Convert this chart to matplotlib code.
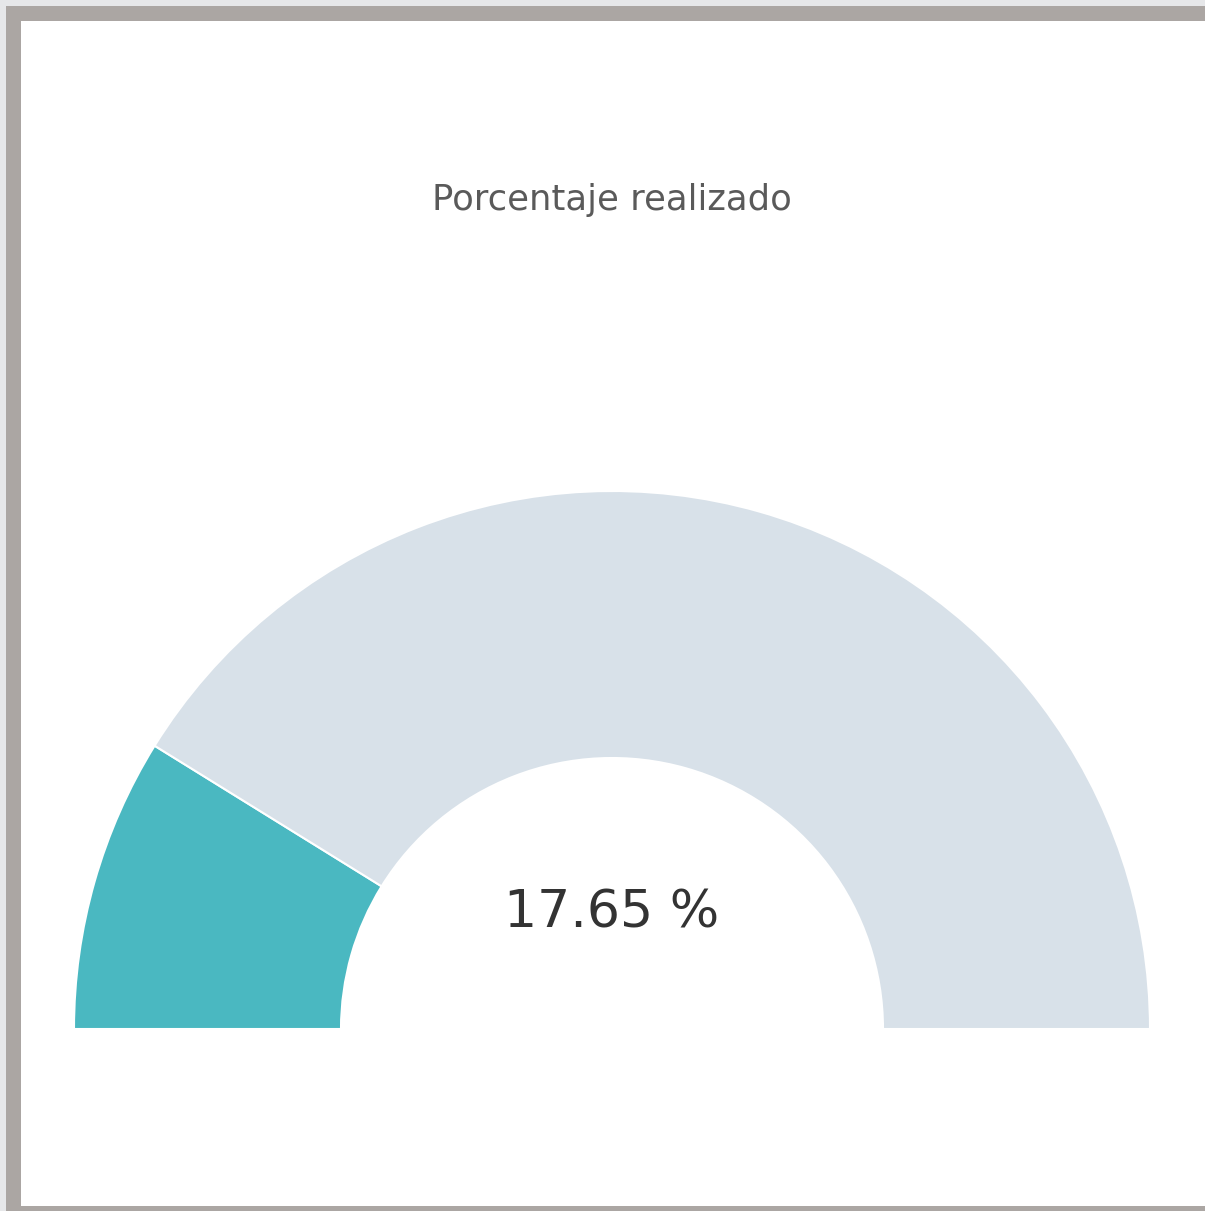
import matplotlib.pyplot as plt
from matplotlib.patches import Rectangle

# gauge data
title = 'Porcentaje realizado'
done_pct = 17.65
values = [done_pct, 100 - done_pct, 100]   # last slice = hidden bottom half
colors = ['#4ab8c1', '#d8e1e9', 'none']

W, H = 1205, 1211
fig = plt.figure(figsize=(W / 100, H / 100), dpi=100, facecolor='#e6e7e9')
ax = fig.add_axes([0, 0, 1, 1])

# frame: grey border on left/top/bottom, white panel inside
ax.add_patch(Rectangle((6, 0), W - 6, H - 6, facecolor='#aba6a3', edgecolor='none', zorder=0))
ax.add_patch(Rectangle((21, 5), W - 21, H - 26, facecolor='white', edgecolor='none', zorder=1))

cx, cy = 612, H - 1029
r_out, r_in = 538, 271
wedges, _ = ax.pie(values, colors=colors, startangle=180, counterclock=False,
                   center=(cx, cy), radius=r_out, frame=True,
                   wedgeprops=dict(width=r_out - r_in, edgecolor='white', linewidth=1.5))
wedges[2].set_edgecolor('none')
for w in wedges:
    w.set_zorder(2)
ax.set_xlim(0, W)
ax.set_ylim(0, H)
ax.set_aspect('equal')
ax.axis('off')

ax.text(cx, H - 200, title, ha='center', va='center', fontsize=25.5,
        color='#5a5a5a', family='DejaVu Sans', zorder=3)
ax.text(cx, H - 913, f'{done_pct:.2f} %', ha='center', va='center', fontsize=37.5,
        color='#333333', family='DejaVu Sans', zorder=3)

fig.savefig('out.png', dpi=100, facecolor=fig.get_facecolor())
